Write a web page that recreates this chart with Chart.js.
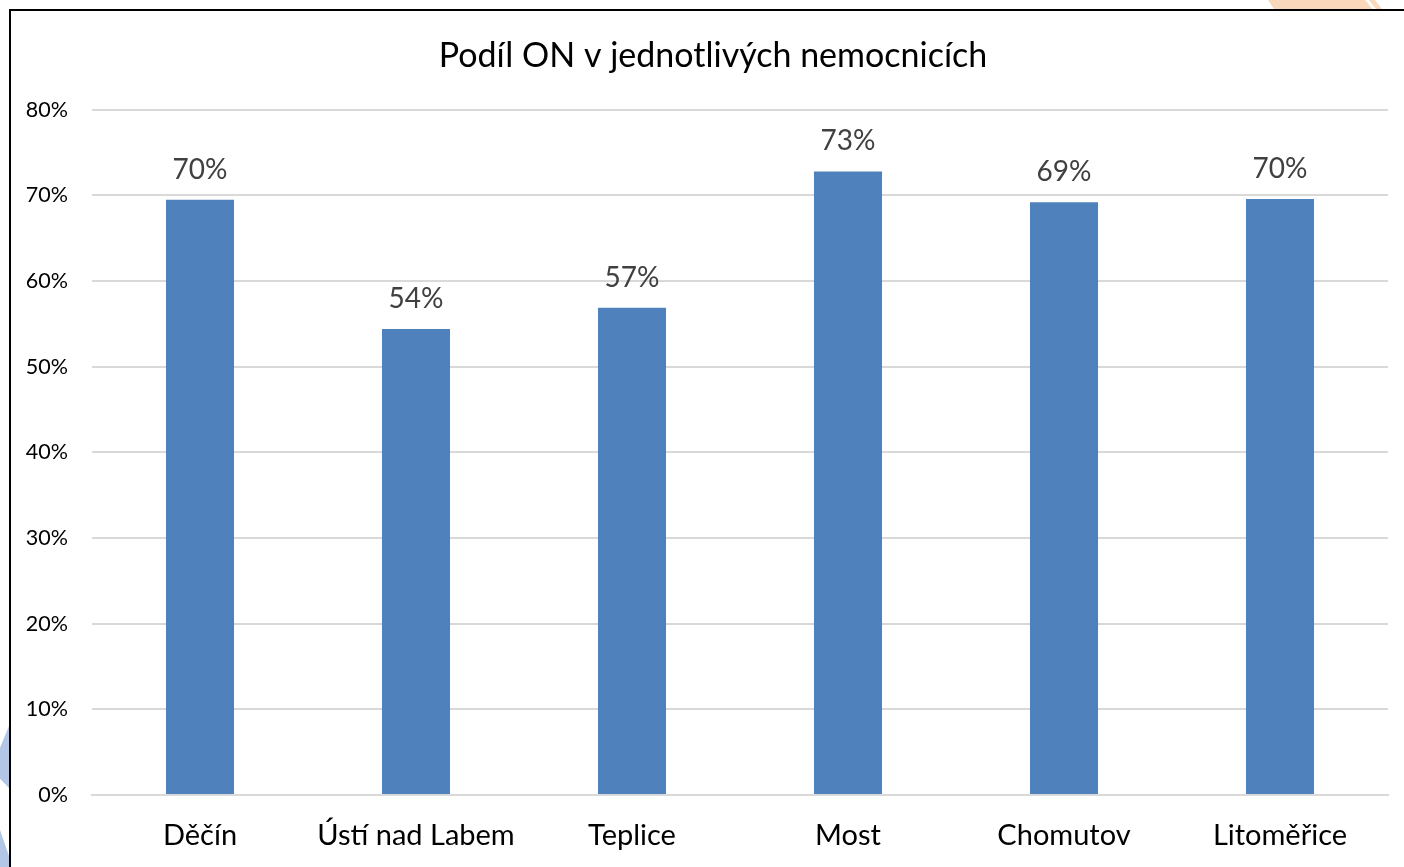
<!DOCTYPE html>
<html>
<head>
<meta charset="utf-8">
<script src="https://cdn.jsdelivr.net/npm/chart.js@4.4.1/dist/chart.umd.min.js"></script>
<style>
    html, body {
        margin: 0;
        padding: 0;
        background: #ffffff;
        overflow: hidden;
        width: 1404px;
        height: 867px;
    }
    .frame {
        position: absolute;
        left: 9px;
        top: 9px;
        width: 1420px;
        height: 880px;
        border: 2px solid #000000;
        box-sizing: border-box;
    }
    .chart-box {
        position: absolute;
        left: 11px;
        top: 11px;
        width: 1404px;
        height: 858px;
    }
    .deco-orange {
        position: absolute;
        top: 0;
        left: 1268px;
        width: 120px;
        height: 9px;
        background: #f9d8bb;
        clip-path: polygon(0 0, 81% 0, 87% 100%, 5% 100%);
    }
    .deco-orange2 {
        position: absolute;
        top: 0;
        left: 1268px;
        width: 120px;
        height: 9px;
        background: #f9d8bb;
        clip-path: polygon(84% 0, 89% 0, 95% 100%, 90% 100%);
    }
    .deco-blue {
        position: absolute;
        left: 0;
        width: 9px;
        background: #b4c6e6;
    }
</style>
</head>
<body>
<div class="deco-orange"></div>
<div class="deco-orange2"></div>
<div class="deco-blue" style="top:726px;height:62px;clip-path:polygon(100% 0,100% 100%,0 85%,0 35%);"></div>
<div class="deco-blue" style="top:830px;height:37px;clip-path:polygon(0 0,100% 70%,100% 100%,0 100%);"></div>
<div class="frame"></div>
<div class="chart-box"><canvas id="chartCanvas" width="1404" height="858"></canvas></div>
<script>
// Chart data
const hospitals = ['Děčín', 'Ústí nad Labem', 'Teplice', 'Most', 'Chomutov', 'Litoměřice'];
const shareON = [69.5, 54.4, 56.9, 72.8, 69.2, 69.6];
const tickValues = [0, 10, 20, 30, 40, 50, 60, 70, 80];

const chartTitle = 'Podíl ON v jednotlivých nemocnicích';
const fontFamily = 'Lato, "Open Sans", sans-serif';

// Draws the rounded percentage above each bar
const valueLabels = {
    id: 'valueLabels',
    afterDatasetsDraw(chart) {
        const ctx = chart.ctx;
        const meta = chart.getDatasetMeta(0);
        ctx.save();
        ctx.font = '28px ' + fontFamily;
        ctx.fillStyle = '#404040';
        ctx.textAlign = 'center';
        ctx.textBaseline = 'bottom';
        meta.data.forEach((bar, i) => {
            ctx.fillText(Math.round(shareON[i]) + '%', bar.x, bar.y - 16);
        });
        ctx.restore();
    }
};

// Centre the title on the whole frame, not just the padded area
const fullWidthTitle = {
    id: 'fullWidthTitle',
    afterLayout(chart) {
        const t = chart.titleBlock;
        if (t) {
            t.left = 0;
            t.right = chart.width;
            t.width = chart.width;
        }
    }
};

const ctx = document.getElementById('chartCanvas').getContext('2d');
new Chart(ctx, {
    type: 'bar',
    data: {
        labels: hospitals,
        datasets: [{
            data: shareON,
            backgroundColor: '#4f81bd',
            borderWidth: 0,
            barPercentage: 0.315,
            categoryPercentage: 1.0
        }]
    },
    options: {
        responsive: false,
        animation: false,
        layout: {
            padding: { left: 0, right: 27, top: 0, bottom: 0 }
        },
        plugins: {
            legend: { display: false },
            tooltip: { enabled: false },
            title: {
                display: true,
                text: chartTitle,
                color: '#000000',
                font: { family: fontFamily, size: 34, weight: 'normal' },
                padding: { top: 25, bottom: 33 }
            }
        },
        scales: {
            x: {
                grid: { display: false, drawTicks: false },
                border: { display: true, color: '#d9d9d9', width: 2 },
                ticks: {
                    color: '#000000',
                    font: { family: fontFamily, size: 29 },
                    padding: 23,
                    maxRotation: 0
                },
                afterFit(scale) { scale.height = 74; }
            },
            y: {
                min: 0,
                max: 80,
                afterBuildTicks(scale) {
                    scale.ticks = tickValues.map(v => ({ value: v }));
                },
                grid: { color: '#d9d9d9', lineWidth: 2, drawTicks: false },
                border: { display: false },
                ticks: {
                    color: '#000000',
                    font: { family: fontFamily, size: 21.5 },
                    padding: 24,
                    callback: (v) => v + '%'
                },
                afterFit(scale) { scale.width = 81; }
            }
        }
    },
    plugins: [valueLabels, fullWidthTitle]
});
</script>
</body>
</html>
